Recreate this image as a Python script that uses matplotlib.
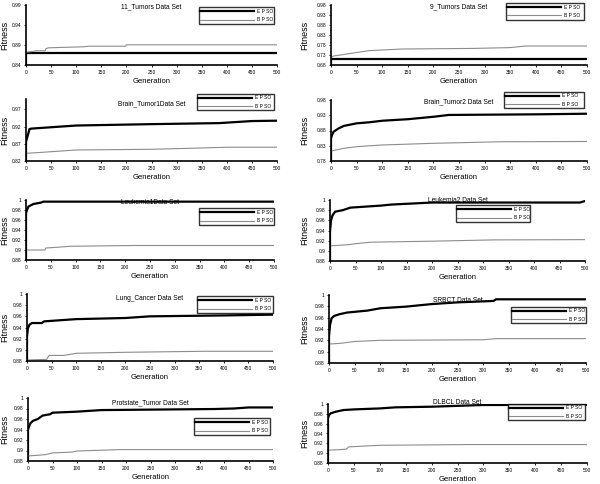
import matplotlib
matplotlib.use("Agg")
import matplotlib.pyplot as plt
from matplotlib.ticker import FixedLocator, FuncFormatter

plt.rcParams["font.family"] = ["Liberation Sans", "DejaVu Sans"]

# --- data: (generation, fitness) per data set ---
tumors11_gen_e = [0, 0, 500]
tumors11_epso = [0.84, 0.870, 0.870]
tumors11_gen_b = [0, 15, 20, 38, 40, 45, 115, 125, 198, 200, 500]
tumors11_bpso = [0.872, 0.874, 0.8756, 0.8756, 0.881, 0.883, 0.8856, 0.887, 0.887, 0.8905, 0.8905]

tumors9_gen_e = [0, 0, 500]
tumors9_epso = [0.68, 0.708, 0.708]
tumors9_gen_b = [0, 5, 75, 100, 140, 280, 350, 380, 500]
tumors9_bpso = [0.718, 0.725, 0.752, 0.755, 0.760, 0.763, 0.767, 0.775, 0.775]

brain1_gen_e = [0, 0, 7, 10, 50, 100, 250, 385, 450, 500]
brain1_epso = [0.82, 0.876, 0.9125, 0.914, 0.918, 0.923, 0.927, 0.930, 0.936, 0.937]
brain1_gen_b = [0, 20, 50, 100, 250, 330, 400, 500]
brain1_bpso = [0.8424, 0.844, 0.847, 0.852, 0.854, 0.857, 0.860, 0.860]

brain2_gen_e = [0, 0, 2, 5, 15, 25, 50, 75, 100, 150, 200, 230, 400, 500]
brain2_epso = [0.78, 0.854, 0.865, 0.876, 0.887, 0.895, 0.9035, 0.907, 0.912, 0.917, 0.925, 0.931, 0.933, 0.935]
brain2_gen_b = [0, 25, 50, 100, 200, 330, 500]
brain2_bpso = [0.813, 0.8215, 0.827, 0.8325, 0.838, 0.843, 0.844]

leuk1_gen_e = [0, 0, 2, 5, 15, 30, 35, 500]
leuk1_epso = [0.88, 0.9735, 0.980, 0.987, 0.992, 0.9947, 0.9967, 0.9967]
leuk1_gen_b = [0, 38, 40, 65, 90, 220, 500]
leuk1_bpso = [0.900, 0.900, 0.904, 0.9056, 0.9075, 0.909, 0.909]

leuk2_gen_e = [0, 0, 2, 5, 10, 25, 40, 100, 120, 200, 490, 500]
leuk2_epso = [0.88, 0.937, 0.960, 0.970, 0.977, 0.980, 0.985, 0.989, 0.991, 0.995, 0.995, 0.998]
leuk2_gen_b = [0, 35, 50, 80, 200, 320, 500]
leuk2_bpso = [0.9097, 0.912, 0.914, 0.917, 0.919, 0.9215, 0.922]

lung_gen_e = [0, 0, 2, 5, 10, 30, 35, 100, 200, 250, 400, 500]
lung_epso = [0.88, 0.924, 0.939, 0.945, 0.948, 0.948, 0.951, 0.955, 0.957, 0.960, 0.9616, 0.963]
lung_gen_b = [0, 40, 45, 75, 100, 200, 360, 500]
lung_bpso = [0.8818, 0.883, 0.890, 0.890, 0.8938, 0.8956, 0.8974, 0.8974]

srbct_gen_e = [0, 0, 2, 5, 10, 20, 35, 75, 100, 150, 200, 250, 320, 325, 500]
srbct_epso = [0.88, 0.927, 0.947, 0.959, 0.963, 0.966, 0.969, 0.9725, 0.9766, 0.9795, 0.984, 0.987, 0.9895, 0.9924, 0.9924]
srbct_gen_b = [0, 25, 50, 100, 300, 325, 500]
srbct_bpso = [0.9134, 0.915, 0.918, 0.920, 0.921, 0.923, 0.923]

prost_gen_e = [0, 0, 2, 5, 10, 20, 25, 30, 45, 50, 100, 150, 380, 420, 450, 500]
prost_epso = [0.88, 0.939, 0.9455, 0.952, 0.9564, 0.960, 0.9634, 0.9666, 0.969, 0.972, 0.974, 0.977, 0.979, 0.980, 0.982, 0.982]
prost_gen_b = [0, 35, 50, 90, 100, 190, 500]
prost_bpso = [0.8896, 0.892, 0.8954, 0.897, 0.899, 0.9018, 0.9018]

dlbcl_gen_e = [0, 0, 2, 5, 15, 30, 50, 100, 130, 200, 300, 500]
dlbcl_epso = [0.88, 0.971, 0.9775, 0.981, 0.9843, 0.9877, 0.989, 0.991, 0.9932, 0.9945, 0.998, 0.998]
dlbcl_gen_b = [0, 35, 40, 75, 100, 270, 500]
dlbcl_bpso = [0.906, 0.908, 0.9127, 0.9148, 0.916, 0.9175, 0.9175]

titles = ["11_Tumors Data Set", "9_Tumors Data Set",
          "Brain_Tumor1Data Set", "Brain_Tumor2 Data Set",
          "Leukemia1Data Set", "Leukemia2 Data Set",
          "Lung_Cancer Data Set", "SRBCT Data Set",
          "Protstate_Tumor Data Set", "DLBCL Data Set"]
series = [
    (tumors11_gen_e, tumors11_epso, tumors11_gen_b, tumors11_bpso),
    (tumors9_gen_e, tumors9_epso, tumors9_gen_b, tumors9_bpso),
    (brain1_gen_e, brain1_epso, brain1_gen_b, brain1_bpso),
    (brain2_gen_e, brain2_epso, brain2_gen_b, brain2_bpso),
    (leuk1_gen_e, leuk1_epso, leuk1_gen_b, leuk1_bpso),
    (leuk2_gen_e, leuk2_epso, leuk2_gen_b, leuk2_bpso),
    (lung_gen_e, lung_epso, lung_gen_b, lung_bpso),
    (srbct_gen_e, srbct_epso, srbct_gen_b, srbct_bpso),
    (prost_gen_e, prost_epso, prost_gen_b, prost_bpso),
    (dlbcl_gen_e, dlbcl_epso, dlbcl_gen_b, dlbcl_bpso),
]
y_ticks = [
    [0.84, 0.89, 0.94, 0.99],
    [0.68, 0.73, 0.78, 0.83, 0.88, 0.93, 0.98],
    [0.82, 0.87, 0.92, 0.97],
    [0.78, 0.83, 0.88, 0.93, 0.98],
] + [[0.88, 0.9, 0.92, 0.94, 0.96, 0.98, 1.0]] * 6
y_lims = [(0.84, 0.99), (0.68, 0.98), (0.82, 1.0), (0.78, 0.98)] + [(0.88, 1.0)] * 6
x_ticks = list(range(0, 501, 50))

# layout in pixels: axes (x0, x1, ytop, ybottom), legend (x0, x1, ytop, ybottom)
W, H = 600, 484
AX_PX = [(26, 277, 5, 65), (331, 587, 5, 65),
         (26, 277, 99, 161), (331, 587, 100, 161),
         (26, 274, 200, 260), (330, 585, 200, 261),
         (27, 273, 294, 361), (329, 586, 295, 363),
         (28, 273, 398, 461), (328, 587, 404, 463)]
LEG_PX = [(199, 274, 7, 24), (506, 584, 3, 20),
          (197, 274, 93, 111), (504, 584, 91, 109),
          (199, 274, 209, 224), (456, 530, 204, 223),
          (197, 273, 296, 313), (511, 586, 307, 323),
          (194, 270, 419, 434), (508, 585, 403, 421)]
TITLE_Y = [3, 3, 100, 98, 199, 197, 295, 297, 399, 399]


def fig_rect(x0, x1, yt, yb):
    return [x0 / W, 1 - yb / H, (x1 - x0) / W, (yb - yt) / H]


fig = plt.figure(figsize=(6.0, 4.84), dpi=100)
fmt = FuncFormatter(lambda v, _: f"{v:g}")

for i, (ge, ye, gb, yb) in enumerate(series):
    x0, x1, yt, yb_ = AX_PX[i]
    ax = fig.add_axes(fig_rect(x0, x1, yt, yb_))
    ax.plot(ge, ye, color="black", lw=1.6, label="E P SO", solid_joinstyle="miter")
    ax.plot(gb, yb, color="#8c8c8c", lw=0.8, label="B P SO")
    ax.set_xlim(0, 500)
    ax.set_ylim(*y_lims[i])
    ax.xaxis.set_major_locator(FixedLocator(x_ticks))
    ax.yaxis.set_major_locator(FixedLocator(y_ticks[i]))
    ax.yaxis.set_major_formatter(fmt)
    for side in ("top", "right"):
        ax.spines[side].set_visible(False)
    for side in ("left", "bottom"):
        ax.spines[side].set_linewidth(1.2)
    ax.tick_params(axis="both", labelsize=3.5, length=1.5, width=0.6, pad=2)
    ax.set_xlabel("Generation", fontsize=5.5, labelpad=2)
    ax.set_ylabel("Fitness", fontsize=6.5)
    # label centre sits a few px in from the panel's column edge
    col_edge = 0 if x0 < 300 else 300
    ax.yaxis.set_label_coords((col_edge + 9 - x0) / (x1 - x0), 0.5)

    fig.text((x0 + x1) / 2 / W, 1 - TITLE_Y[i] / H, titles[i],
             ha="center", va="top", fontsize=4.8)

    lx0, lx1, lyt, lyb = LEG_PX[i]
    leg = ax.legend(loc="center", bbox_to_anchor=fig_rect(lx0, lx1, lyt, lyb),
                    bbox_transform=fig.transFigure, mode="expand",
                    fontsize=3.5, handlelength=11, borderpad=0.3,
                    labelspacing=0.7, handletextpad=0.6, fancybox=False,
                    borderaxespad=0)
    leg.get_frame().set_edgecolor("black")
    leg.get_frame().set_linewidth(1.0)

fig.savefig("out.png", dpi=100)
